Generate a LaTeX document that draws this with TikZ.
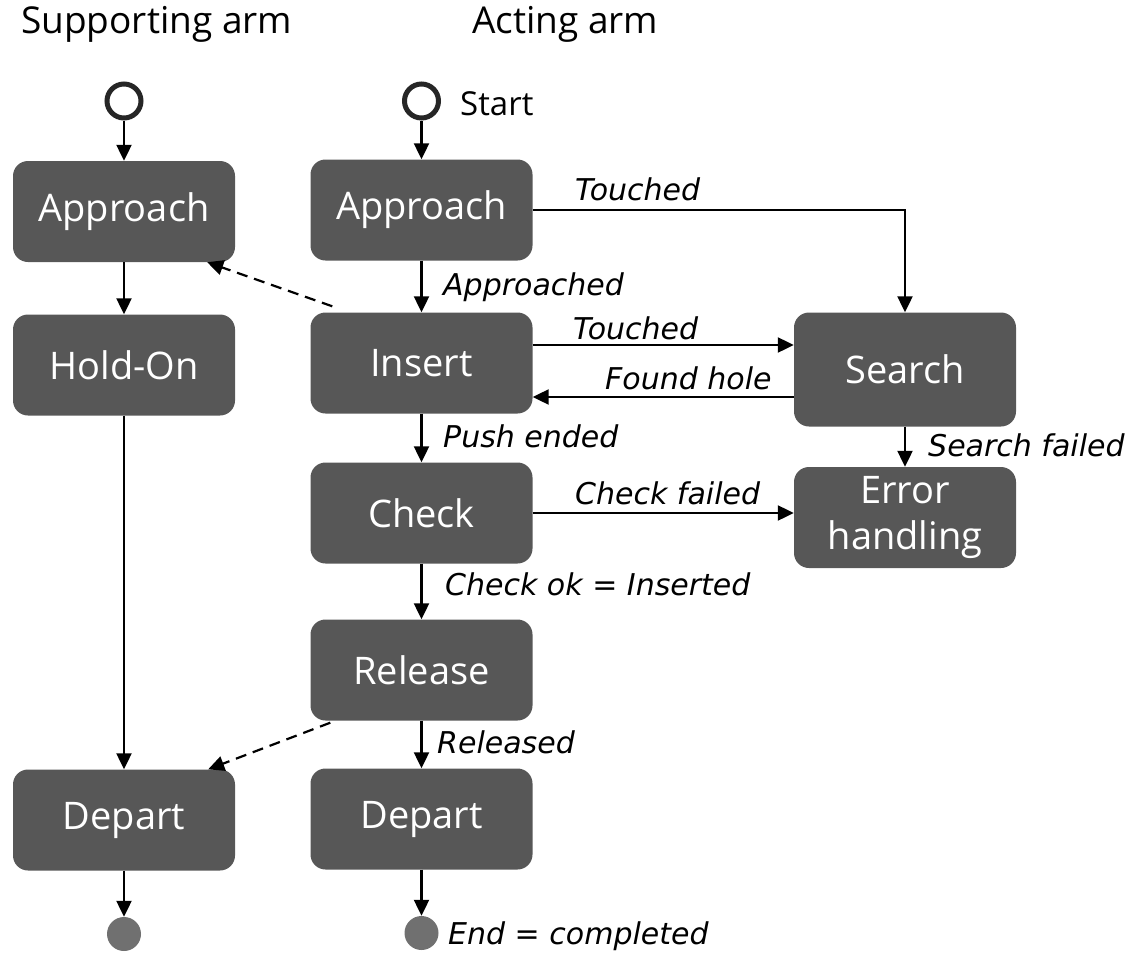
\documentclass[tikz,border=0pt]{standalone}
\usepackage{fontspec}
\setmainfont{Open Sans}
\newfontfamily\labelfont{DejaVu Sans}
\usetikzlibrary{arrows.meta,positioning}
\definecolor{boxgray}{HTML}{575757}
\definecolor{endgray}{HTML}{707070}
\tikzset{
  state/.style={rectangle, rounded corners=15pt, fill=boxgray, text=white,
    minimum width=222pt, minimum height=101pt, inner sep=0pt, align=center,
    font=\fontsize{38}{46}\selectfont},
  initial/.style={circle, draw=black!85, line width=5pt, fill=white,
    minimum size=34pt, inner sep=0pt},
  final/.style={circle, fill=endgray, minimum size=34pt, inner sep=0pt},
  lbl/.style={anchor=base west, inner sep=0pt, font=\labelfont\fontsize{30}{34}\selectfont\itshape},
  title/.style={anchor=base west, inner sep=0pt, font=\fontsize{37}{42}\selectfont},
  arr/.style={-{Triangle[length=16pt,width=15pt]}, line width=2.2pt},
  dasharr/.style={arr, dash pattern=on 11pt off 7pt},
}
\begin{document}
\begin{tikzpicture}[x=1pt, y=-1pt]
\useasboundingbox (0,0) rectangle (1130,953);

% column titles
\node[title] (tS) at (21,33) {Supporting arm};
\node[title] (tA) at (472,33) {Acting arm};

% supporting arm
\node[initial] (sStart) at (124,101) {};
\node[state] (sAppr) at (124,211.5) {Approach};
\node[state] (sHold) at (124,365) {Hold-On};
\node[state] (sDep)  at (124,820) {Depart};
\node[final] (sEnd)  at (124,934) {};

% acting arm
\node[initial] (aStart) at (421.5,101) {};
\node[anchor=base west, inner sep=0pt, font=\fontsize{33}{38}\selectfont] (startL) at (460,115) {Start};
\node[state] (aAppr) at (421.5,210) {Approach};
\node[state] (aIns)  at (421.5,363) {Insert};
\node[state] (aChk)  at (421.5,513) {Check};
\node[state] (aRel)  at (421.5,670) {Release};
\node[state] (aDep)  at (421.5,819) {Depart};
\node[final] (aEnd)  at (421.5,933) {};
\node[state, minimum height=114pt] (srch) at (905,369.5) {Search};
\node[state] (err) at (905,517.5) {Error\\handling};

% supporting arm flow
\draw[arr] (sStart) -- (sAppr);
\draw[arr] (sAppr) -- (sHold);
\draw[arr] (sHold) -- (sDep);
\draw[arr] (sDep) -- (sEnd);

% acting arm flow
\draw[arr] (aStart) -- (aAppr);
\draw[arr] (aAppr) -- (aIns);
\draw[arr] (aIns) -- (aChk);
\draw[arr] (aChk) -- (aRel);
\draw[arr] (aRel) -- (aDep);
\draw[arr] (aDep) -- (aEnd);

\draw[arr] (aAppr.east) -| (srch.north);
\coordinate (insT) at ([yshift=18pt]aIns.east);
\coordinate (insF) at ([yshift=-34pt]aIns.east);
\draw[arr] (insT) -- (insT -| srch.west);
\draw[arr] (insF -| srch.west) -- (insF);
\draw[arr] (srch) -- (err);
\draw[arr] (aChk.east) -- (aChk.east -| err.west);

% coordination between the arms
\coordinate (d1) at ([shift={(22pt,6pt)}]aIns.north west);
\coordinate (d2) at ([shift={(20pt,-2pt)}]aRel.south west);
\draw[dasharr] (d1) -- ([xshift=-28pt]sAppr.south east);
\draw[dasharr] (d2) -- ([xshift=-27pt]sDep.north east);

% transition labels
\node[lbl] (lTouch1) at (575,200) {Touched};
\node[lbl] (lAppr)   at (443,295) {Approached};
\node[lbl] (lTouch2) at (573,339) {Touched};
\node[lbl] (lFound)  at (605,389) {Found hole};
\node[lbl] (lPush)   at (443,447) {Push ended};
\node[lbl] (lSFail)  at (928,456) {Search failed};
\node[lbl] (lCFail)  at (575,504) {Check failed};
\node[lbl] (lCOk)    at (445,595) {Check ok = Inserted};
\node[lbl] (lRel)    at (437,753) {Released};
\node[lbl] (lEnd)    at (448,944) {End = completed};
\end{tikzpicture}
\end{document}
